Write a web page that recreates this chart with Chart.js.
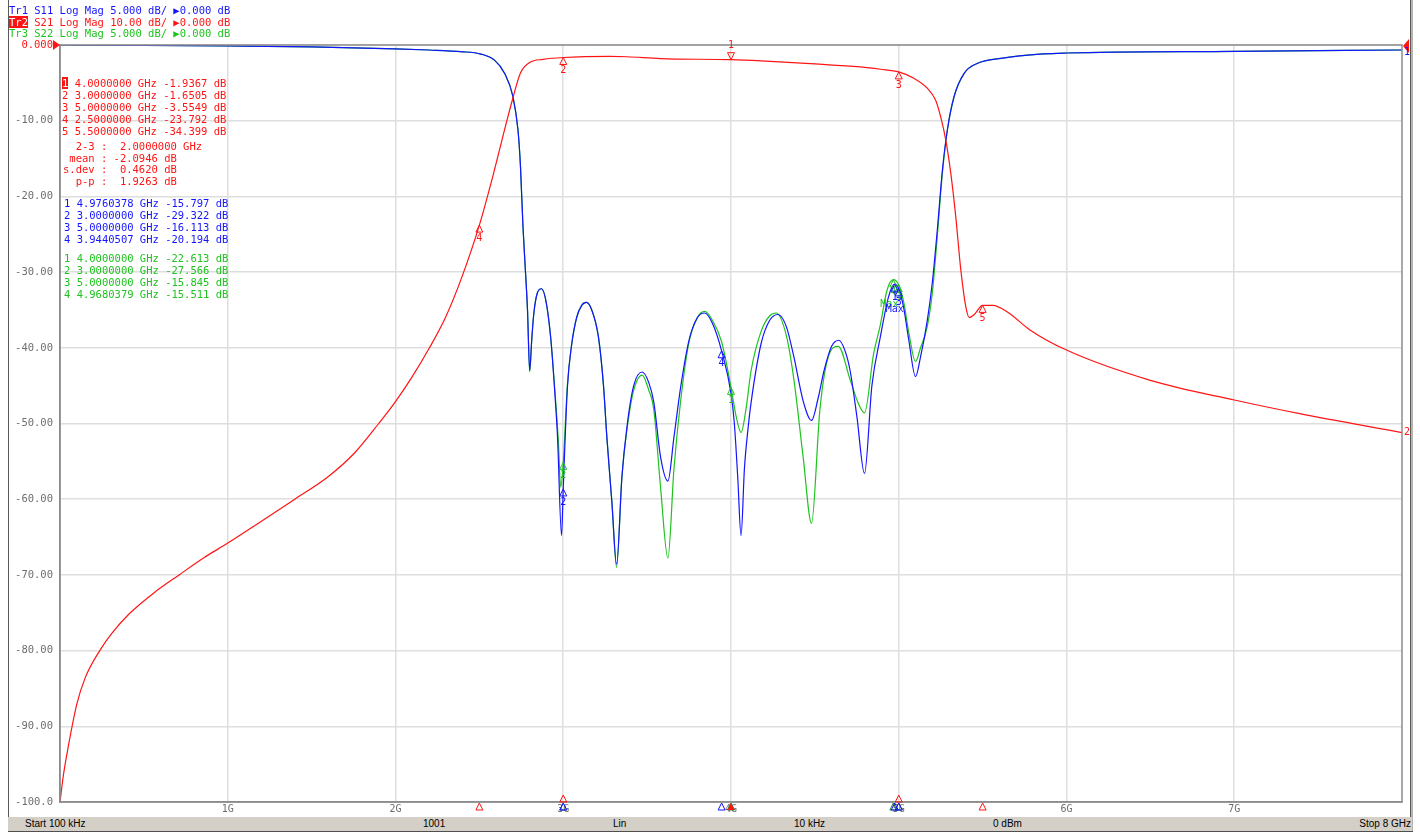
<!DOCTYPE html>
<html>
<head>
<meta charset="utf-8">
<script src="https://cdn.jsdelivr.net/npm/chart.js@4/dist/chart.umd.min.js"></script>
<style>
  html, body { margin: 0; padding: 0; background: #fff; }
  #wrap { position: relative; width: 1420px; height: 834px; overflow: hidden; background: #fff; }
  #c { position: absolute; left: 0; top: 0; }
  .t { position: absolute; white-space: pre; font-family: "DejaVu Sans Mono", monospace; font-size: 10.5px; line-height: 12px; }
  .box { color: #fff; }
  .sb { position: absolute; white-space: pre; font-family: "Liberation Sans", Arial, sans-serif; font-size: 10px; line-height: 14px; color: #000; top: 817px; }
</style>
</head>
<body>
<div id="wrap">
  <canvas id="c" width="1420" height="834"></canvas>
</div>
<script>
// ---------------- DATA ----------------
// S21 (Tr2), dB, 10 dB/div
const freqS21 = [0.0001,0.02,0.05,0.1,0.15,0.24,0.31,0.41,0.57,0.71,0.86,1.0,1.16,1.4,1.6,1.76,1.9,2.0,2.1,2.2,2.3,2.4,2.5,2.59,2.65,2.7,2.745,2.8,2.88,3.0,3.28,3.38,3.58,4.0,4.18,4.5,4.77,4.89,5.0,5.09,5.17,5.22,5.25,5.28,5.31,5.34,5.37,5.4,5.42,5.45,5.5,5.56,5.65,5.78,6.0,6.5,7.0,7.39,8.0];
const s21 = [-100,-96.5,-92.6,-87.1,-83.6,-79.9,-77.7,-75.2,-72.2,-70,-67.7,-65.8,-63.5,-60,-57,-53.8,-50,-47.1,-43.8,-40.1,-35.9,-30.4,-23.8,-16.5,-11.2,-7.0,-3.7,-2.3,-1.9,-1.65,-1.5,-1.55,-1.8,-1.94,-2.1,-2.5,-2.9,-3.2,-3.55,-4.4,-5.7,-7.3,-9.5,-12.5,-16.9,-22.7,-29.7,-34.6,-36,-35.6,-34.4,-34.4,-35.3,-37.6,-40.3,-44.3,-46.9,-48.7,-51.2];

// S11 (Tr1), dB, 5 dB/div
const freqS11 = [0.0001,0.5,1.0,1.5,2.0,2.2,2.39,2.51,2.59,2.65,2.7,2.73,2.745,2.76,2.775,2.787,2.8,2.812,2.824,2.845,2.87,2.895,2.925,2.95,2.966,2.99,3.0,3.025,3.05,3.08,3.11,3.138,3.17,3.21,3.24,3.26,3.29,3.318,3.35,3.38,3.42,3.47,3.51,3.54,3.58,3.624,3.66,3.7,3.75,3.8,3.843,3.89,3.944,4.0,4.02,4.04,4.06,4.08,4.1,4.12,4.18,4.23,4.28,4.33,4.375,4.43,4.48,4.52,4.555,4.6,4.643,4.68,4.71,4.75,4.796,4.84,4.89,4.94,4.976,5.0,5.03,5.06,5.1,5.13,5.17,5.2,5.23,5.26,5.29,5.33,5.39,5.47,5.61,5.86,6.0,7.0,8.0];
const s11 = [0,-0.02,-0.06,-0.12,-0.25,-0.33,-0.44,-0.6,-1.0,-1.86,-3.4,-5.6,-8,-12,-15,-17.5,-21.5,-19.5,-17.8,-16.4,-16.1,-16.8,-19.3,-23.0,-25.9,-32.4,-29.3,-22.6,-19.8,-18.0,-17.2,-17.0,-17.5,-19.3,-22.5,-25.9,-30.2,-34.3,-28.5,-25.2,-22.5,-21.6,-22.3,-23.6,-27.2,-28.8,-25.9,-22.6,-19.5,-18.0,-17.7,-18.4,-20.2,-23.0,-25.0,-28.5,-32.4,-28.0,-25.5,-23.6,-19.7,-18.2,-17.8,-18.6,-20.6,-23.5,-24.8,-23.3,-21.5,-19.9,-19.5,-20.2,-21.5,-24.5,-28.3,-22.5,-19.3,-16.6,-15.8,-16.1,-17.4,-19.5,-21.9,-20.6,-18.2,-15.7,-12.2,-8.3,-5.6,-3.4,-1.87,-1.21,-0.88,-0.59,-0.53,-0.42,-0.33];

// S22 (Tr3), dB, 5 dB/div
const freqS22 = [0.0001,0.5,1.0,1.5,2.0,2.2,2.39,2.51,2.59,2.65,2.7,2.73,2.745,2.76,2.775,2.787,2.8,2.812,2.824,2.845,2.87,2.895,2.925,2.95,2.97,2.985,3.0,3.025,3.05,3.08,3.11,3.138,3.17,3.21,3.24,3.26,3.29,3.318,3.35,3.38,3.42,3.47,3.51,3.54,3.58,3.624,3.66,3.7,3.75,3.8,3.843,3.89,3.944,4.0,4.03,4.06,4.09,4.12,4.18,4.23,4.27,4.33,4.375,4.43,4.48,4.53,4.58,4.64,4.71,4.76,4.796,4.85,4.89,4.93,4.968,5.0,5.03,5.06,5.1,5.13,5.17,5.2,5.23,5.26,5.29,5.33,5.39,5.47,5.61,5.86,6.0,7.0,8.0];
const s22 = [0,-0.02,-0.06,-0.12,-0.25,-0.33,-0.44,-0.6,-1.0,-1.86,-3.4,-5.6,-8,-12,-15,-17.5,-21.6,-19.5,-17.8,-16.4,-16.1,-16.8,-19.3,-22.8,-26.0,-29.2,-27.6,-22.4,-19.8,-18.0,-17.2,-17.0,-17.5,-19.3,-22.5,-25.9,-30.2,-34.5,-28.5,-25.4,-22.8,-21.8,-22.8,-24.1,-29.2,-33.9,-28.0,-23.5,-19.6,-18.0,-17.6,-18.2,-19.6,-22.6,-24.5,-25.6,-24.0,-21.5,-18.9,-17.9,-17.7,-19.2,-22.1,-27.2,-31.6,-24.1,-20.6,-19.9,-22.1,-23.7,-24.3,-20.4,-18.5,-16.2,-15.5,-15.85,-17.0,-19.0,-20.9,-20.0,-18.6,-16.4,-12.6,-8.5,-5.6,-3.4,-1.87,-1.21,-0.88,-0.59,-0.53,-0.42,-0.33];

// Axis ticks
const xTickValues = [1,2,3,4,5,6,7];
const xTickLabels = ['1G','2G','3G','4G','5G','6G','7G'];
const yTickValues = [0,-10,-20,-30,-40,-50,-60,-70,-80,-90,-100];
const yTickLabels = ['0.000','-10.00','-20.00','-30.00','-40.00','-50.00','-60.00','-70.00','-80.00','-90.00','-100.0'];

// Markers
const s21MarkerFreq = [4.0, 3.0, 5.0, 2.5, 5.5];
const s21MarkerVal  = [-1.9367, -1.6505, -3.5549, -23.792, -34.399];
const s11MarkerFreq = [4.9760378, 3.0, 5.0, 3.9440507];
const s11MarkerVal  = [-15.797, -29.322, -16.113, -20.194];
const s11MarkerTag  = ['Max', '', '', ''];
const s22MarkerFreq = [4.0, 3.0, 5.0, 4.9680379];
const s22MarkerVal  = [-22.613, -27.566, -15.845, -15.511];
const s22MarkerTag  = ['', '', '', 'Max'];

// Marker statistics readout (Tr2)
const statLines = ['  2-3 :  2.0000000 GHz', ' mean : -2.0946 dB', 's.dev :  0.4620 dB', '  p-p :  1.9263 dB'];

// Trace header
const traceNames  = ['Tr1', 'Tr2', 'Tr3'];
const traceParams = ['S11', 'S21', 'S22'];
const traceScales = ['5.000', '10.00', '5.000'];
const traceRefs   = ['0.000', '0.000', '0.000'];

// Status bar
const statusTexts = ['Start 100 kHz', '1001', 'Lin', '10 kHz', '0 dBm', 'Stop 8 GHz'];

// ---------------- STYLE ----------------
const BLUE = '#1414ff', RED = '#ff1414', GREEN = '#1ec31e';
const GRID = '#dedede', FRAME = '#8c8c8c', TICK = '#6e6e6e';
const MONO = '"DejaVu Sans Mono", monospace';

const toXY = (xs, ys) => xs.map((x, i) => ({ x: x, y: ys[i] }));

function tri(ctx, x, y, dir, filled, color) {
  ctx.beginPath();
  ctx.moveTo(x, y);
  ctx.lineTo(x - 3.5, y + 7 * dir);
  ctx.lineTo(x + 3.5, y + 7 * dir);
  ctx.closePath();
  if (filled) { ctx.fillStyle = color; ctx.fill(); }
  else { ctx.strokeStyle = color; ctx.lineWidth = 1; ctx.stroke(); }
}

const overlayPlugin = {
  id: 'vnaOverlay',
  beforeDraw(chart) {
    const ctx = chart.ctx;
    ctx.save();
    ctx.fillStyle = '#fff';
    ctx.fillRect(0, 0, chart.width, chart.height);
    ctx.restore();
  },
  afterDatasetsDraw(chart) {
    const ctx = chart.ctx;
    const xs = chart.scales.x, y1 = chart.scales.y, y2 = chart.scales.y2;
    const a = chart.chartArea;
    ctx.save();
    // frame
    ctx.strokeStyle = FRAME;
    ctx.lineWidth = 1.5;
    ctx.strokeRect(a.left, a.top, a.right - a.left, a.bottom - a.top);

    ctx.font = '10px ' + MONO;
    ctx.textAlign = 'center';
    ctx.textBaseline = 'middle';

    function drawMarker(f, v, scale, color, label, active, tag, dx) {
      const px = xs.getPixelForValue(f);
      const py = scale.getPixelForValue(v);
      if (active) {
        tri(ctx, px, py, -1, false, color);
        ctx.fillStyle = color;
        ctx.fillText(label, px, py - 14);
      } else {
        tri(ctx, px, py, 1, false, color);
        ctx.fillStyle = color;
        ctx.fillText(label, px, py + 13);
        if (tag) ctx.fillText(tag, px + (dx || 0), py + 25);
      }
    }
    // green (Tr3) markers
    s22MarkerFreq.forEach((f, i) => drawMarker(f, s22MarkerVal[i], y2, GREEN, String(i + 1), false, s22MarkerTag[i], -4));
    // blue (Tr1) markers
    s11MarkerFreq.forEach((f, i) => drawMarker(f, s11MarkerVal[i], y2, BLUE, String(i + 1), false, s11MarkerTag[i], 0));
    // red (Tr2) markers, marker 1 active
    s21MarkerFreq.forEach((f, i) => drawMarker(f, s21MarkerVal[i], y1, RED, String(i + 1), i === 0, '', 0));

    // stimulus markers on the bottom axis
    const yb = a.bottom;
    s22MarkerFreq.forEach(f => tri(ctx, xs.getPixelForValue(f), yb + 1, 1, false, '#1a7a3a'));
    s11MarkerFreq.forEach(f => tri(ctx, xs.getPixelForValue(f), yb + 1, 1, false, BLUE));
    s21MarkerFreq.forEach((f, i) => {
      const px = xs.getPixelForValue(f);
      const shared = s11MarkerFreq.includes(f) || s22MarkerFreq.includes(f);
      if (i === 0) tri(ctx, px, yb + 1, 1, true, RED);
      else if (shared) tri(ctx, px, yb - 7, 1, false, RED);
      else tri(ctx, px, yb + 1, 1, false, RED);
    });

    // reference level markers
    const r0 = y1.getPixelForValue(0);
    ctx.fillStyle = RED;
    ctx.beginPath();
    ctx.moveTo(a.left - 7, r0 - 5); ctx.lineTo(a.left - 7, r0 + 5); ctx.lineTo(a.left, r0); ctx.closePath(); ctx.fill();
    ctx.beginPath();
    ctx.moveTo(a.right + 1, r0 + 1); ctx.lineTo(a.right + 7, r0 - 6); ctx.lineTo(a.right + 7, r0 + 8); ctx.closePath(); ctx.fill();

    // trace end labels
    ctx.textAlign = 'left';
    ctx.fillStyle = BLUE;
    ctx.fillText('1', a.right + 2, y2.getPixelForValue(s11[s11.length - 1]) + 2);
    ctx.fillStyle = RED;
    ctx.fillText('2', a.right + 2, y1.getPixelForValue(s21[s21.length - 1]));
    ctx.restore();
  }
};

const chart = new Chart(document.getElementById('c'), {
  type: 'line',
  data: {
    datasets: [
      { label: 'S21', data: toXY(freqS21, s21), yAxisID: 'y', borderColor: RED, borderWidth: 1.2 },
      { label: 'S11', data: toXY(freqS11, s11), yAxisID: 'y2', borderColor: BLUE, borderWidth: 1.2 },
      { label: 'S22', data: toXY(freqS22, s22), yAxisID: 'y2', borderColor: GREEN, borderWidth: 1.2 }
    ]
  },
  options: {
    responsive: false,
    devicePixelRatio: 1,
    animation: false,
    parsing: false,
    normalized: true,
    layout: { padding: { left: 0, top: 45, right: 18, bottom: 0 } },
    elements: {
      point: { radius: 0 },
      line: { cubicInterpolationMode: 'monotone', fill: false }
    },
    plugins: { legend: { display: false }, tooltip: { enabled: false } },
    scales: {
      x: {
        type: 'linear', min: 0.0001, max: 8,
        afterBuildTicks: s => { s.ticks = xTickValues.map(v => ({ value: v })); },
        afterFit: s => { s.height = 32; },
        ticks: {
          autoSkip: false, maxRotation: 0, padding: 1,
          color: TICK, font: { family: MONO, size: 10 },
          callback: v => xTickLabels[xTickValues.indexOf(v)]
        },
        grid: { color: GRID, lineWidth: 1.5, drawTicks: false },
        border: { display: true, color: FRAME, width: 1.5 }
      },
      y: {
        type: 'linear', min: -100, max: 0, position: 'left',
        afterBuildTicks: s => { s.ticks = yTickValues.map(v => ({ value: v })); },
        afterFit: s => { s.width = 60; },
        ticks: {
          autoSkip: false, padding: 7,
          color: c => (c.tick && c.tick.value === 0 ? RED : TICK),
          font: { family: MONO, size: 10.5 },
          callback: v => yTickLabels[yTickValues.indexOf(v)]
        },
        grid: { color: GRID, lineWidth: 1.5, drawTicks: false },
        border: { display: true, color: FRAME, width: 1.5 }
      },
      y2: { type: 'linear', min: -50, max: 0, display: false }
    }
  },
  plugins: [overlayPlugin]
});

// ---------------- TEXT OVERLAYS ----------------
const wrap = document.getElementById('wrap');
function addText(txt, x, y, color, bg) {
  const d = document.createElement('div');
  d.className = 't';
  d.style.left = x + 'px';
  d.style.top = y + 'px';
  d.style.color = color;
  if (bg) { d.style.background = bg; d.style.color = '#fff'; }
  d.textContent = txt;
  wrap.appendChild(d);
  return d;
}
function addLine(prefix, rest, x, y, color, boxed) {
  const d = document.createElement('div');
  d.className = 't';
  d.style.left = x + 'px';
  d.style.top = y + 'px';
  d.style.color = color;
  const s = document.createElement('span');
  s.textContent = prefix;
  if (boxed) { s.style.background = color; s.style.color = '#fff'; }
  d.appendChild(s);
  d.appendChild(document.createTextNode(rest));
  wrap.appendChild(d);
}
const traceColors = [BLUE, RED, GREEN];
traceNames.forEach((n, i) => {
  addLine(n, ' ' + traceParams[i] + ' Log Mag ' + traceScales[i] + ' dB/ \u25B6' + traceRefs[i] + ' dB',
          9, [4, 15.5, 27][i], traceColors[i], i === 1);
});
function fmtMarker(f, v) { return ' ' + f.toFixed(7) + ' GHz ' + v.toPrecision(5) + ' dB'; }
s21MarkerFreq.forEach((f, i) => addLine(String(i + 1), fmtMarker(f, s21MarkerVal[i]), 62, 76.5 + 12.1 * i, RED, i === 0));
statLines.forEach((l, i) => addText(l, 63, 140 + 11.5 * i, RED));
s11MarkerFreq.forEach((f, i) => addLine(String(i + 1), fmtMarker(f, s11MarkerVal[i]), 64, 196.5 + 12 * i, BLUE, false));
s22MarkerFreq.forEach((f, i) => addLine(String(i + 1), fmtMarker(f, s22MarkerVal[i]), 64, 251.5 + 12 * i, GREEN, false));

// window frame + status bar
function addBox(x, y, w, h, bg) {
  const d = document.createElement('div');
  d.style.cssText = 'position:absolute;left:' + x + 'px;top:' + y + 'px;width:' + w + 'px;height:' + h + 'px;background:' + bg + ';';
  wrap.appendChild(d);
}
addBox(8, 0, 1, 817, '#5a5a5a');
addBox(1410, 0, 1, 817, '#5a5a5a');
addBox(1411, 0, 2, 832, '#b8b4ac');
addBox(8, 817, 1404, 14, '#d4d0c8');
addBox(8, 831, 1405, 1, '#505050');
const statusX = [25, 423, 613, 794, 993, null];
statusTexts.forEach((t, i) => {
  const d = document.createElement('div');
  d.className = 'sb';
  if (statusX[i] === null) { d.style.right = (1420 - 1411) + 'px'; }
  else d.style.left = statusX[i] + 'px';
  d.textContent = t;
  wrap.appendChild(d);
});
</script>
</body>
</html>
